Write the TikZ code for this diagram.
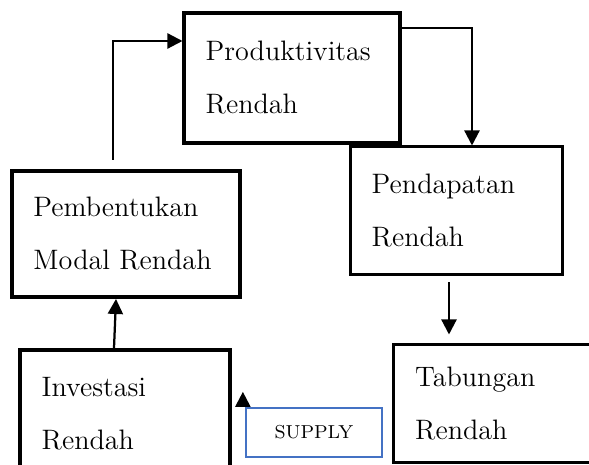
\documentclass[tikz,border=0pt]{standalone}
\usepackage{tikz}
\usetikzlibrary{arrows.meta}
\definecolor{supplyblue}{HTML}{4472C4}

\begin{document}
\begin{tikzpicture}[
            x = 0.4pt, y = 0.4pt, % one unit per pixel
            > = {Triangle[width=6pt,length=6pt]}, % arrow head style
            line width = 0.9pt, % line style
            box/.style = {shape=rectangle, draw=black, line width=1.6pt, align=left,
                          inner xsep=8.5pt, font=\fontsize{11.25}{21.2}\selectfont},
            thinbox/.style = {box, line width=1.2pt}
        ]
\useasboundingbox (0,0) rectangle (589,465);

\node[box, text width=69pt, minimum height=52pt] (prod) at (292,387) {Produktivitas\\Rendah};
\node[thinbox, text width=67.8pt, minimum height=51.2pt] (pend) at (456.5,254) {Pendapatan\\Rendah};
\node[box, text width=74pt, minimum height=50.4pt] (bentuk) at (126,231) {Pembentukan\\Modal Rendah};
\node[box, text width=66.6pt, minimum height=51.2pt] (invest) at (125,51) {Investasi\\Rendah};
\node[thinbox, text width=67pt, minimum height=47.2pt] (tabung) at (499,61) {Tabungan\\Rendah};
\node[shape=rectangle, draw=supplyblue, minimum width=54.4pt, minimum height=19.6pt,
      font=\fontsize{7.5}{9}\selectfont] (supply) at (314,32.5) {SUPPLY};

 \draw [->] ([shift={(-13,9)}]bentuk.north) |- ([shift={(0,37)}]prod.west);
 \draw [->] ([shift={(0,50)}]prod.east) -| ([shift={(15.5,0)}]pend.north);
 \draw [->] ([shift={(-7.5,-6)}]pend.south) -- ([shift={(-50,9)}]tabung.north);
 \draw [->] ([shift={(-11,0)}]invest.north) -- ([shift={(-10,0)}]bentuk.south);
 \draw [->] ([shift={(-2,0)}]supply.north west) -- ([shift={(-2,15)}]supply.north west);
\end{tikzpicture}
\end{document}
